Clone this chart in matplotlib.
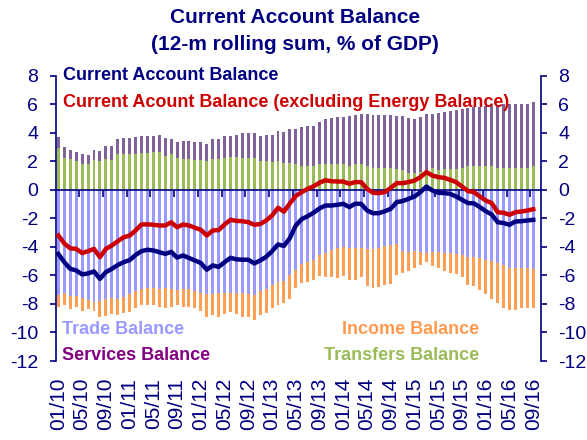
import matplotlib
matplotlib.use("Agg")
import matplotlib.pyplot as plt
import numpy as np

plt.rcParams['font.family'] = ['Liberation Sans', 'DejaVu Sans']

tick_labels = ["01/10", "05/10", "09/10", "01/11", "05/11", "09/11", "01/12",
               "05/12", "09/12", "01/13", "05/13", "09/13", "01/14", "05/14",
               "09/14", "01/15", "05/15", "09/15", "01/16", "05/16", "09/16"]

trade = [-7.35, -7.24, -7.45, -7.45, -7.6, -7.7, -7.87, -7.76, -7.64, -7.6,
         -7.64, -7.52, -7.29, -7.06, -6.94, -6.9, -6.9, -6.92, -6.85, -6.98,
         -7.0, -6.98, -6.98, -7.06, -7.26, -7.29, -7.29, -7.26, -7.22, -7.24,
         -7.26, -7.26, -7.29, -7.4, -7.06, -6.94, -6.7, -6.47, -6.36, -6.0,
         -5.6, -5.19, -5.07, -4.92, -4.6, -4.45, -4.25, -4.1, -4.02, -4.05,
         -4.05, -4.08, -4.14, -4.14, -4.08, -3.97, -3.9, -3.8, -4.28, -4.33,
         -4.3, -4.35, -4.45, -4.37, -4.37, -4.4, -4.46, -4.52, -4.6, -4.72,
         -4.72, -4.75, -4.9, -5.0, -5.15, -5.3, -5.5, -5.5, -5.5, -5.5, -5.55]

income = [-0.85, -0.86, -0.89, -0.77, -0.86, -0.64, -0.63, -1.17, -1.21, -1.1,
          -1.1, -1.12, -1.28, -1.21, -1.16, -1.15, -1.2, -1.3, -1.45, -1.2,
          -1.1, -1.22, -1.22, -1.24, -1.22, -1.63, -1.51, -1.62, -1.48, -1.33,
          -1.44, -1.66, -1.61, -1.75, -1.69, -1.66, -1.58, -1.63, -1.57, -1.67,
          -1.27, -1.31, -1.4, -1.41, -1.43, -1.65, -1.85, -2.05, -2.03, -2.25,
          -2.25, -2.04, -2.6, -2.73, -2.74, -2.67, -2.69, -2.2, -1.56, -1.35,
          -1.15, -0.9, -0.62, -0.96, -1.11, -1.28, -1.34, -1.38, -1.52, -1.98,
          -2.03, -2.25, -2.4, -2.65, -2.8, -2.98, -2.95, -2.93, -2.8, -2.78, -2.7]

transfers = [2.95, 2.24, 2.16, 2.0, 1.82, 1.82, 2.1, 2.0, 2.14, 2.12,
             2.49, 2.49, 2.48, 2.52, 2.57, 2.6, 2.63, 2.62, 2.4, 2.5,
             2.21, 2.15, 2.15, 2.12, 2.12, 2.0, 2.15, 2.15, 2.23, 2.27,
             2.29, 2.24, 2.24, 2.24, 1.99, 1.99, 1.94, 1.99, 1.87, 1.87,
             1.78, 1.7, 1.7, 1.7, 1.78, 1.78, 1.82, 1.84, 1.82, 1.7,
             1.78, 1.82, 1.7, 1.56, 1.56, 1.56, 1.5, 1.45, 1.4, 1.15,
             1.15, 1.25, 1.4, 1.5, 1.4, 1.45, 1.48, 1.48, 1.54, 1.64,
             1.64, 1.7, 1.7, 1.64, 1.56, 1.56, 1.56, 1.56, 1.56, 1.56, 1.64]

services = [0.77, 0.74, 0.62, 0.63, 0.67, 0.61, 0.66, 0.74, 0.91, 0.98,
            1.05, 1.15, 1.16, 1.2, 1.19, 1.16, 1.17, 1.24, 1.22, 1.07,
            1.11, 1.26, 1.26, 1.2, 1.2, 1.2, 1.38, 1.42, 1.51, 1.53,
            1.54, 1.76, 1.71, 1.73, 1.75, 1.85, 1.92, 2.1, 2.17, 2.36,
            2.47, 2.68, 2.79, 2.8, 2.94, 3.18, 3.18, 3.26, 3.28, 3.5,
            3.46, 3.46, 3.63, 3.71, 3.69, 3.68, 3.72, 3.72, 3.8, 3.9,
            3.83, 3.87, 3.9, 3.83, 3.97, 3.99, 4.04, 4.1, 4.1, 4.06,
            4.13, 4.12, 4.18, 4.31, 4.41, 4.44, 4.47, 4.47, 4.47, 4.47, 4.52]

ca = [-4.5, -5.07, -5.54, -5.65, -5.93, -5.86, -5.72, -6.24, -5.77, -5.54,
      -5.27, -5.07, -4.93, -4.57, -4.3, -4.2, -4.25, -4.37, -4.49, -4.35,
      -4.75, -4.6, -4.78, -4.95, -5.13, -5.6, -5.3, -5.4, -5.07, -4.77,
      -4.87, -4.9, -4.9, -5.16, -4.95, -4.7, -4.3, -3.83, -3.93, -3.38,
      -2.5, -2.05, -1.85, -1.6, -1.3, -1.1, -1.1, -1.05, -0.98, -1.21,
      -0.98, -0.98, -1.45, -1.64, -1.64, -1.5, -1.33, -0.86, -0.79, -0.63,
      -0.47, -0.16, 0.23, -0.05, -0.21, -0.23, -0.28, -0.47, -0.7, -0.93,
      -0.95, -1.21, -1.5, -1.73, -2.27, -2.33, -2.45, -2.22, -2.2, -2.15, -2.1]

ca_ex_energy = [-3.2, -3.76, -4.1, -4.14, -4.43, -4.3, -4.14, -4.72, -4.14, -3.9,
                -3.61, -3.32, -3.21, -2.85, -2.43, -2.42, -2.45, -2.5, -2.5, -2.28,
                -2.62, -2.43, -2.5, -2.66, -2.8, -3.2, -2.85, -2.82, -2.43, -2.1,
                -2.18, -2.2, -2.27, -2.45, -2.4, -2.15, -1.8, -1.26, -1.53, -0.95,
                -0.43, -0.16, 0.07, 0.25, 0.5, 0.67, 0.6, 0.58, 0.58, 0.42,
                0.54, 0.54, 0.07, -0.21, -0.23, -0.16, 0.14, 0.47, 0.47, 0.54,
                0.65, 0.89, 1.24, 1.0, 0.89, 0.84, 0.7, 0.54, 0.23, -0.09,
                -0.16, -0.47, -0.75, -0.93, -1.57, -1.61, -1.75, -1.57, -1.52, -1.45, -1.36]

NAVY = '#000080'
RED = '#CC0000'
C_TRADE = '#9999FF'
C_INCOME = '#FF9F55'
C_TRANSF = '#9BBB59'
C_SERV = '#806499'

x = np.arange(len(trade))
trade_a = np.array(trade)
transf_a = np.array(transfers)

fig = plt.figure(figsize=(5.87, 4.40), dpi=100)
ax = fig.add_axes([0.0949, 0.1795, 0.8267, 0.6485])

w = 0.5
ax.bar(x, trade, width=w, color=C_TRADE, zorder=2)
ax.bar(x, income, width=w, bottom=trade_a, color=C_INCOME, zorder=2)
ax.bar(x, transfers, width=w, color=C_TRANSF, zorder=2)
ax.bar(x, services, width=w, bottom=transf_a, color=C_SERV, zorder=2)

ax.plot(x, ca_ex_energy, color=RED, lw=3.2, zorder=4, solid_joinstyle='round')
ax.plot(x, ca, color=NAVY, lw=3.2, zorder=4, solid_joinstyle='round')

ax.set_xlim(-0.45, len(trade) + 0.3)
ax.set_ylim(-12, 8)

# spines
for s in ['top']:
    ax.spines[s].set_visible(False)
ax.spines['left'].set_color(NAVY)
ax.spines['right'].set_color(NAVY)
ax.spines['left'].set_linewidth(1.2)
ax.spines['right'].set_linewidth(1.2)
ax.spines['bottom'].set_position(('data', 0))
ax.spines['bottom'].set_color(NAVY)
ax.spines['bottom'].set_linewidth(1.2)
ax.spines['bottom'].set_zorder(3)

# y ticks both sides
yt = np.arange(-12, 9, 2)
ax.set_yticks(yt)
ax.set_yticklabels([str(v) for v in yt])
ax.tick_params(axis='y', which='both', left=True, right=True, labelleft=True,
               labelright=True, direction='out', length=4.5, width=1.2,
               color=NAVY, labelcolor=NAVY, labelsize=14, pad=8)

# x: tick marks on zero line between categories every 4 months
ax.set_xticks(np.arange(3.5, len(trade), 4))
ax.set_xticklabels([])
ax.tick_params(axis='x', direction='out', length=5, width=1.2, color=NAVY)

sec = ax.secondary_xaxis('bottom')
sec.set_xticks(np.arange(0, len(trade), 4))
sec.set_xticklabels(tick_labels, rotation=90)
sec.tick_params(axis='x', length=0, pad=12, labelsize=15, labelcolor=NAVY)
sec.spines['bottom'].set_visible(False)

# legend-like texts
kw = dict(transform=ax.transAxes, fontsize=13, fontweight='bold', zorder=6)
ax.text(0.014, 1.0, 'Current Account Balance', color=NAVY, va='center', ha='left', **kw)
ax.text(0.014, 0.906, 'Current Acount Balance (excluding Energy Balance)', color=RED,
        va='center', ha='left', **kw)
ax.text(0.012, 0.112, 'Trade Balance', color=C_TRADE, va='center', ha='left', **kw)
ax.text(0.012, 0.021, 'Services Balance', color='#800080', va='center', ha='left', **kw)
ax.text(0.872, 0.112, 'Income Balance', color='#FF9A50', va='center', ha='right', **kw)
ax.text(0.872, 0.021, 'Transfers Balance', color=C_TRANSF, va='center', ha='right', **kw)

fig.text(0.503, 0.961, 'Current Account Balance', color=NAVY, fontsize=15,
         fontweight='bold', ha='center', va='center')
fig.text(0.503, 0.898, '(12-m rolling sum, % of GDP)', color=NAVY, fontsize=15,
         fontweight='bold', ha='center', va='center')

fig.savefig('out.png', dpi=100)
